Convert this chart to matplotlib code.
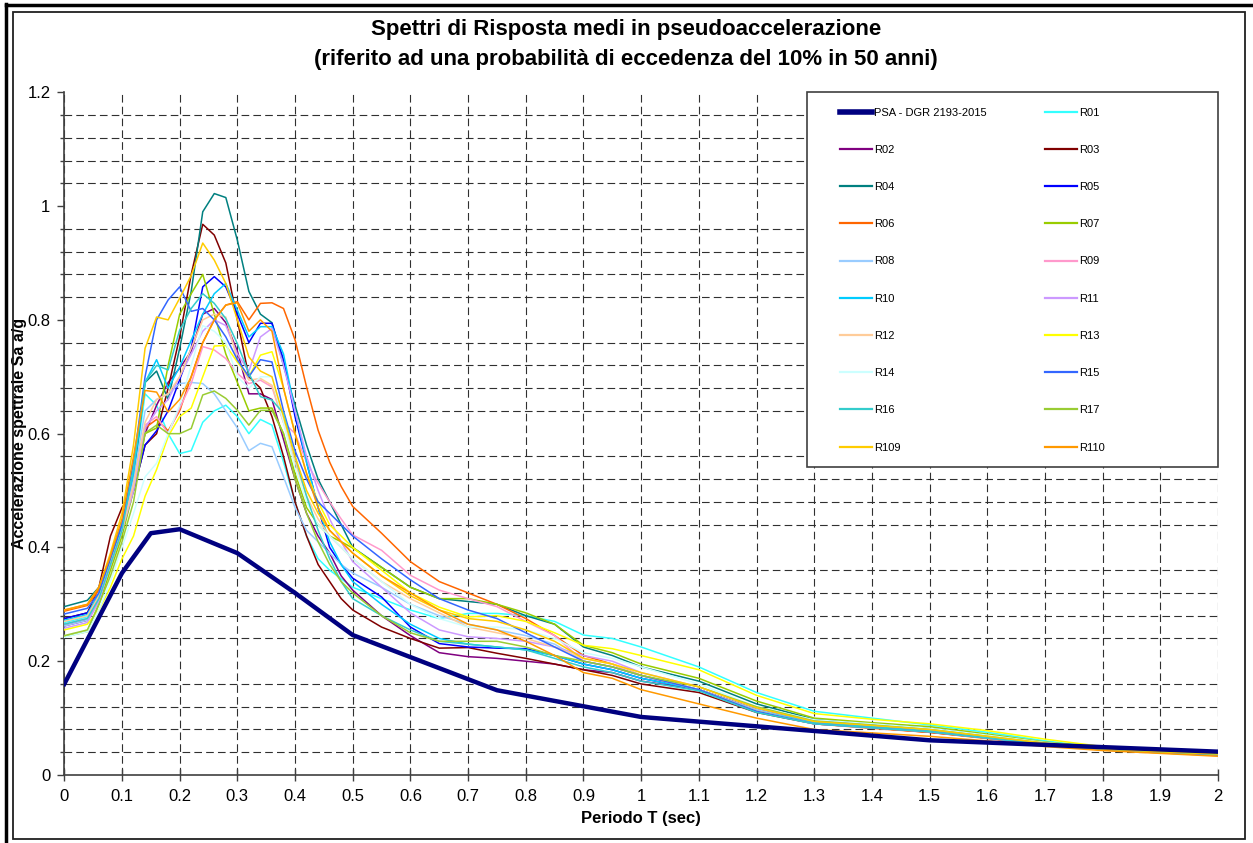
import matplotlib
matplotlib.use("Agg")
import matplotlib.pyplot as plt
from matplotlib.patches import Rectangle
from matplotlib.lines import Line2D
import numpy as np

plt.rcParams['font.family'] = ['Liberation Sans', 'DejaVu Sans']
plt.rcParams['lines.scale_dashes'] = False

# ---------------- data ----------------
T_psa = [0, 0.1, 0.15, 0.2, 0.3, 0.4, 0.5, 0.75, 1.0, 1.5, 2.0]
psa = [0.16, 0.355, 0.425, 0.432, 0.39, 0.32, 0.246, 0.149, 0.102, 0.061, 0.041]

T = [0, 0.04, 0.06, 0.08, 0.10, 0.12, 0.14, 0.16, 0.18, 0.20, 0.22, 0.24, 0.26, 0.28,
     0.30, 0.32, 0.34, 0.36, 0.38, 0.40, 0.42, 0.44, 0.46, 0.48, 0.50, 0.55, 0.60,
     0.65, 0.70, 0.75, 0.80, 0.85, 0.90, 0.95, 1.00, 1.10, 1.20, 1.30, 1.40, 1.50,
     1.60, 1.70, 1.80, 1.90, 2.00]

R01 = [.268, .278, .31, .37, .43, .52, .67, .65, .60, .565, .57, .62, .64, .65, .63, .60, .625, .615, .55, .48,
       .42, .38, .36, .345, .33, .31, .29, .275, .284, .284, .28, .27, .246, .24, .225,
       .19, .145, .112, .10, .088, .075, .06, .048, .042, .037]
R02 = [.262, .272, .31, .38, .44, .52, .60, .65, .69, .715, .745, .81, .82, .795, .745, .67, .67, .66, .59, .52,
       .46, .42, .39, .35, .325, .28, .245, .215, .208, .205, .20, .195, .185, .18, .165,
       .15, .115, .095, .087, .078, .067, .055, .046, .041, .036]
R03 = [.275, .285, .33, .42, .47, .50, .58, .60, .68, .77, .88, .968, .949, .90, .80, .70, .68, .63, .56, .48,
       .42, .37, .34, .31, .29, .26, .24, .223, .224, .214, .205, .195, .185, .175, .16,
       .145, .11, .09, .083, .075, .065, .053, .045, .04, .035]
R04 = [.296, .307, .33, .38, .44, .52, .69, .71, .66, .75, .85, .99, 1.022, 1.015, .94, .85, .81, .795, .72, .65,
       .58, .52, .48, .44, .40, .365, .33, .31, .305, .30, .28, .265, .225, .21, .19,
       .165, .125, .098, .09, .082, .07, .056, .047, .042, .037]
R05 = [.275, .285, .315, .37, .43, .50, .58, .605, .64, .695, .75, .858, .876, .858, .81, .76, .794, .794, .73, .63,
       .55, .47, .40, .37, .346, .313, .26, .231, .225, .223, .222, .21, .195, .185, .17,
       .15, .115, .092, .085, .078, .067, .055, .046, .041, .036]
R06 = [.288, .298, .325, .38, .44, .52, .61, .625, .605, .64, .70, .76, .80, .826, .832, .80, .829, .83, .82, .765,
       .682, .606, .55, .507, .472, .425, .375, .34, .32, .30, .275, .245, .21, .195, .175,
       .15, .115, .09, .082, .075, .064, .053, .044, .039, .034]
R07 = [.243, .252, .30, .36, .42, .50, .60, .61, .72, .81, .846, .88, .81, .74, .69, .64, .645, .645, .60, .53,
       .47, .44, .42, .41, .399, .365, .33, .31, .31, .30, .285, .265, .228, .215, .195,
       .17, .13, .10, .092, .085, .072, .058, .048, .043, .039]
R08 = [.262, .272, .31, .37, .43, .52, .64, .66, .67, .688, .69, .688, .67, .64, .61, .57, .583, .577, .524, .47,
       .43, .41, .39, .37, .355, .33, .30, .28, .265, .255, .245, .23, .20, .19, .175,
       .15, .115, .092, .085, .077, .066, .054, .045, .04, .035]
R09 = [.265, .275, .31, .37, .43, .51, .615, .63, .60, .645, .688, .753, .747, .732, .706, .688, .694, .682, .62, .60,
       .55, .513, .48, .45, .422, .395, .351, .325, .31, .296, .27, .245, .20, .19, .175,
       .15, .112, .09, .083, .076, .065, .054, .045, .04, .035]
R10 = [.272, .282, .32, .38, .44, .53, .69, .73, .68, .717, .764, .81, .846, .864, .817, .77, .788, .788, .74, .64,
       .55, .47, .41, .37, .34, .30, .265, .24, .23, .225, .22, .21, .195, .185, .17,
       .15, .113, .092, .085, .078, .066, .055, .045, .04, .036]
R11 = [.258, .268, .305, .37, .43, .50, .61, .64, .66, .70, .74, .78, .80, .79, .74, .71, .77, .785, .72, .64,
       .56, .50, .45, .41, .375, .33, .285, .255, .243, .24, .235, .225, .21, .20, .18,
       .155, .118, .095, .088, .08, .068, .056, .046, .041, .037]
R12 = [.27, .28, .315, .375, .43, .51, .62, .66, .67, .70, .75, .80, .81, .805, .73, .694, .697, .685, .62, .55,
       .49, .45, .42, .40, .38, .34, .31, .285, .26, .25, .24, .225, .205, .195, .175,
       .15, .113, .09, .083, .076, .065, .053, .044, .039, .034]
R13 = [.255, .265, .29, .33, .38, .42, .49, .537, .595, .63, .645, .70, .754, .755, .726, .70, .738, .744, .68, .60,
       .53, .48, .44, .42, .40, .36, .32, .295, .278, .28, .27, .25, .228, .222, .21,
       .185, .14, .108, .098, .09, .078, .063, .05, .046, .041]
R14 = [.242, .252, .29, .34, .40, .46, .524, .548, .60, .65, .72, .79, .78, .76, .70, .68, .70, .70, .62, .54,
       .48, .44, .42, .40, .38, .34, .30, .275, .26, .26, .255, .24, .215, .205, .19,
       .16, .12, .097, .09, .082, .07, .057, .047, .042, .037]
R15 = [.283, .293, .32, .38, .44, .55, .70, .80, .835, .858, .815, .82, .80, .77, .73, .70, .73, .726, .64, .57,
       .52, .48, .46, .44, .42, .38, .343, .31, .29, .275, .25, .225, .20, .19, .175,
       .15, .112, .09, .083, .076, .065, .054, .045, .04, .035]
R16 = [.265, .275, .31, .37, .43, .54, .691, .72, .712, .782, .82, .846, .829, .802, .758, .706, .665, .659, .636, .56,
       .49, .43, .38, .34, .31, .28, .255, .235, .23, .225, .22, .205, .19, .18, .165,
       .148, .11, .09, .083, .076, .065, .054, .045, .04, .036]
R17 = [.245, .255, .30, .35, .41, .48, .601, .615, .60, .60, .609, .668, .675, .662, .641, .615, .641, .641, .60, .52,
       .46, .41, .37, .34, .32, .28, .25, .235, .235, .235, .225, .21, .20, .19, .175,
       .155, .12, .095, .088, .08, .068, .056, .046, .041, .037]
R109 = [.29, .30, .33, .39, .46, .58, .75, .805, .80, .838, .878, .935, .905, .864, .80, .735, .71, .70, .63, .56,
        .50, .46, .43, .41, .39, .35, .315, .29, .275, .27, .255, .235, .205, .195, .18,
        .155, .118, .094, .087, .08, .068, .056, .046, .041, .037]
R110 = [.29, .30, .33, .385, .45, .56, .676, .673, .638, .66, .70, .76, .80, .826, .83, .78, .80, .78, .68, .60,
        .53, .47, .43, .41, .39, .35, .32, .29, .265, .255, .235, .21, .18, .17, .15,
        .125, .10, .08, .074, .068, .06, .05, .043, .038, .033]

names = ['R01', 'R02', 'R03', 'R04', 'R05', 'R06', 'R07', 'R08', 'R09', 'R10',
         'R11', 'R12', 'R13', 'R14', 'R15', 'R16', 'R17', 'R109', 'R110']
series = [R01, R02, R03, R04, R05, R06, R07, R08, R09, R10,
          R11, R12, R13, R14, R15, R16, R17, R109, R110]
colors = ['#33FFFF', '#800080', '#800000', '#008080', '#0000FF', '#FF6600', '#99CC00',
          '#99CCFF', '#FF99CC', '#00CCFF', '#CC99FF', '#FFCC99', '#FFFF00', '#CCFFFF',
          '#3366FF', '#33CCCC', '#99CC33', '#FFCC00', '#FF9900']

# ---------------- figure ----------------
W, H = 1253, 843
fig = plt.figure(figsize=(W / 100, H / 100), dpi=100)
fig.patch.set_facecolor('white')

# frames
fig.add_artist(Line2D([6 / W, 6 / W], [0, 1 - 4 / H], transform=fig.transFigure, color='black', lw=2.5))
fig.add_artist(Line2D([6 / W, 1], [1 - 5 / H, 1 - 5 / H], transform=fig.transFigure, color='black', lw=2.5))
fig.add_artist(Rectangle((13 / W, 1 - 839 / H), (1245 - 13) / W, (839 - 12) / H,
                         transform=fig.transFigure, fill=False, edgecolor='#202020', lw=1.3))

x0, x1 = 64.3, 1218.0
y0, y1 = 775.0, 92.3
ax = fig.add_axes([x0 / W, 1 - y0 / H, (x1 - x0) / W, (y0 - y1) / H])

ax.set_xlim(0, 2)
ax.set_ylim(0, 1.2)
ax.set_xticks(np.arange(0, 2.0001, 0.1))
ax.set_xticklabels(['0', '0.1', '0.2', '0.3', '0.4', '0.5', '0.6', '0.7', '0.8', '0.9', '1',
                    '1.1', '1.2', '1.3', '1.4', '1.5', '1.6', '1.7', '1.8', '1.9', '2'])
ax.set_yticks([0, 0.2, 0.4, 0.6, 0.8, 1.0, 1.2])
ax.set_yticklabels(['0', '0.2', '0.4', '0.6', '0.8', '1', '1.2'])
ax.set_yticks(np.arange(0, 1.2001, 0.04), minor=True)
ax.tick_params(axis='x', which='major', direction='inout', length=8, width=1, color='#404040',
               labelsize=12, pad=6)
ax.tick_params(axis='y', which='major', direction='out', length=5, width=1, color='#404040',
               labelsize=12, pad=5)
ax.tick_params(axis='y', which='minor', direction='out', length=3, width=1, color='#404040')

for s in ['top', 'right']:
    ax.spines[s].set_visible(False)
for s in ['left', 'bottom']:
    ax.spines[s].set_color('#404040')
    ax.spines[s].set_linewidth(1.2)

dash = (0, (5.5, 3.0))
ax.grid(True, which='major', axis='x', color='#303030', lw=0.8, linestyle=dash)
ax.grid(True, which='minor', axis='y', color='#303030', lw=0.8, linestyle=dash)
ax.set_axisbelow(True)

hp, = ax.plot(T_psa, psa, color='#000080', lw=3.2, zorder=5, solid_joinstyle='round',
              label='PSA - DGR 2193-2015')
rh = []
for nm, vals, c in zip(names, series, colors):
    h, = ax.plot(T, vals, color=c, lw=1.1, zorder=3, label=nm)
    rh.append(h)

# legend: row-wise order in 2 columns (matplotlib fills column-wise)
all_h = [hp] + rh
leg_h = all_h[0::2] + all_h[1::2]

lx0, lx1, ly0, ly1 = 806.5, 1218.0, 91.7, 466.7
ax.add_patch(Rectangle(((lx0 - x0) / (x1 - x0), (y0 - ly1) / (y0 - y1)),
                       (lx1 - lx0) / (x1 - x0), (ly1 - ly0) / (y0 - y1),
                       transform=ax.transAxes, facecolor='white', edgecolor='#404040',
                       lw=1.2, zorder=8, clip_on=False))
leg = ax.legend(handles=leg_h, ncol=2, loc='upper left', frameon=False,
                bbox_to_anchor=((840 - x0) / (x1 - x0), (y0 - 107.5) / (y0 - y1)),
                fontsize=8, handlelength=2.85, handletextpad=0.25, columnspacing=5.2,
                labelspacing=2.45, borderpad=0.0, borderaxespad=0.0)
leg.set_zorder(9)
for lh, h in zip(leg.get_lines(), leg_h):
    lh.set_linewidth(4.0 if h is hp else 1.6)

ax.set_xlabel('Periodo T (sec)', fontsize=12, fontweight='bold', labelpad=5)
ax.set_ylabel('Accelerazione spettrale Sa a/g', fontsize=11.5, fontweight='bold')
ax.yaxis.set_label_coords((27.5 - x0) / (x1 - x0), 0.5)

fig.text(626 / W, 1 - 30 / H, 'Spettri di Risposta medi in pseudoaccelerazione',
         ha='center', va='center', fontsize=16, fontweight='bold')
fig.text(626 / W, 1 - 60 / H, '(riferito ad una probabilità di eccedenza del 10% in 50 anni)',
         ha='center', va='center', fontsize=16, fontweight='bold')

fig.savefig('out.png', dpi=100, facecolor='white')
